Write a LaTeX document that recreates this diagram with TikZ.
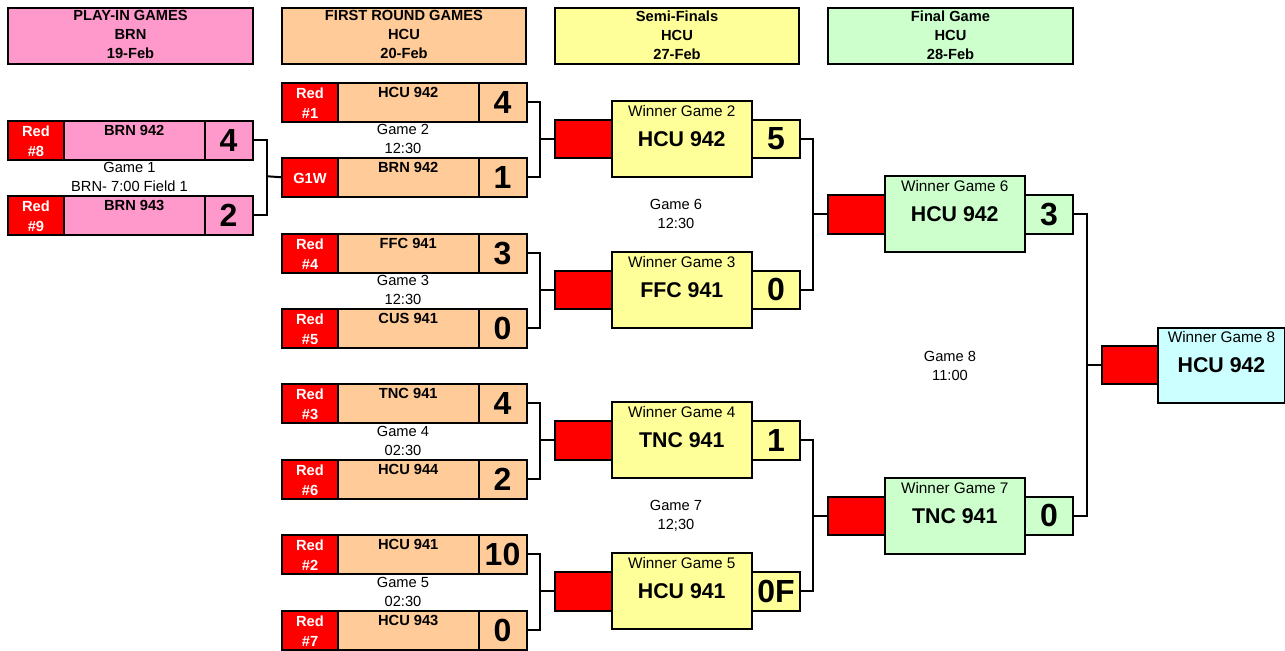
\documentclass[tikz,border=0pt]{standalone}
\usepackage{fontspec}
\setmainfont{Liberation Sans}
\definecolor{pinkc}{HTML}{FF99CC}
\definecolor{peachc}{HTML}{FFCC99}
\definecolor{yellowc}{HTML}{FFFF99}
\definecolor{greenc}{HTML}{CCFFCC}
\definecolor{cyanc}{HTML}{CCFFFF}
\definecolor{redc}{HTML}{FF0000}
\tikzset{
 cw/.style={minimum width=#1*0.75pt},
 ch/.style={minimum height=#1*0.75pt},
 cell/.style={draw=black, line width=1.5pt, inner sep=0pt, anchor=north west},
 redtxt/.style={text=white, font=\bfseries\fontsize{11}{14.5}\selectfont, align=center, inner sep=0pt},
 teamtxt/.style={font=\bfseries\fontsize{11}{13}\selectfont, inner sep=0pt},
 scoretxt/.style={font=\bfseries\fontsize{24}{26}\selectfont, inner sep=0pt},
 gametxt/.style={font=\fontsize{11}{14.25}\selectfont, align=center, inner sep=0pt},
 headtxt/.style={font=\bfseries\fontsize{11}{14.25}\selectfont, align=center, inner sep=0pt},
 wintxt/.style={font=\fontsize{11.5}{13}\selectfont, inner sep=0pt},
 bigname/.style={font=\bfseries\fontsize{16}{18}\selectfont, inner sep=0pt},
 conn/.style={line width=1.5pt},
}
% team row: id, x, ytop, fill, red text, team, score
\newcommand{\trow}[7]{%
 \node[cell, fill=redc, cw=56, ch=38.5] (#1r) at (#2,#3) {};
 \node[cell, fill=#4, cw=140.5, ch=38.5] (#1n) at (#2+56,#3) {};
 \node[cell, fill=#4, cw=48, ch=38.5] (#1s) at (#2+196.5,#3) {};
 \node[redtxt] at ([yshift=-0.8pt]#1r.center) {#5};
 \node[teamtxt] at ([yshift=-7.5pt]#1n.north) {#6};
 \node[scoretxt] at (#1s.center) {#7};
}
% winner box: id, x, ycenter, fill, label, name, score
\newcommand{\wbox}[7]{%
 \node[cell, anchor=west, fill=redc, cw=56.5, ch=38.5] (#1r) at (#2,#3) {};
 \node[cell, anchor=west, fill=#4, cw=48, ch=38.5] (#1s) at (#2+197,#3) {};
 \node[cell, anchor=west, fill=#4, cw=140.5, ch=76] (#1w) at (#2+56.5,#3) {};
 \node[wintxt] at ([yshift=-8.2pt]#1w.north) {#5};
 \node[bigname] at (#1w.center) {#6};
 \node[scoretxt] at (#1s.center) {#7};
}
\begin{document}
\begin{tikzpicture}[x=0.75pt,y=-0.75pt]
\useasboundingbox (0,0) rectangle (1285,650);
% headers
\node[cell, fill=pinkc, cw=245, ch=56] (h1) at (7,7) {};
\node[cell, fill=peachc, cw=244, ch=56] (h2) at (281,7) {};
\node[cell, fill=yellowc, cw=244, ch=56] (h3) at (554,7) {};
\node[cell, fill=greenc, cw=245, ch=56] (h4) at (827,7) {};
\node[headtxt] at ([yshift=0.9pt]h1.center) {PLAY-IN GAMES\\BRN\\19-Feb};
\node[headtxt] at ([yshift=0.9pt]h2.center) {FIRST ROUND GAMES\\HCU\\20-Feb};
\node[headtxt] at ([yshift=0.9pt]h3.center) {Semi-Finals\\HCU\\27-Feb};
\node[headtxt] at ([yshift=0.9pt]h4.center) {Final Game\\HCU\\28-Feb};
% play-in
\trow{p1}{7}{120}{pinkc}{Red\\\#8}{BRN 942}{4}
\trow{p2}{7}{195}{pinkc}{Red\\\#9}{BRN 943}{2}
\node[gametxt] (gl1) at (129.5,176.5) {Game 1\\BRN- 7:00 Field 1};
% first round
\trow{a1}{281}{82}{peachc}{Red\\\#1}{HCU 942}{4}
\trow{a2}{281}{157}{peachc}{G1W}{BRN 942}{1}
\trow{a3}{281}{233}{peachc}{Red\\\#4}{FFC 941}{3}
\trow{a4}{281}{308}{peachc}{Red\\\#5}{CUS 941}{0}
\trow{a5}{281}{383}{peachc}{Red\\\#3}{TNC 941}{4}
\trow{a6}{281}{459}{peachc}{Red\\\#6}{HCU 944}{2}
\trow{a7}{281}{534}{peachc}{Red\\\#2}{HCU 941}{10}
\trow{a8}{281}{610}{peachc}{Red\\\#7}{HCU 943}{0}
\node[gametxt] (gl2) at (403,138.5) {Game 2\\12:30};
\node[gametxt] (gl3) at (403,289.5) {Game 3\\12:30};
\node[gametxt] (gl4) at (403,440.5) {Game 4\\02:30};
\node[gametxt] (gl5) at (403,591.5) {Game 5\\02:30};
% semi-finals
\wbox{s1}{554}{138.75}{yellowc}{Winner Game 2}{HCU 942}{5}
\wbox{s2}{554}{289.75}{yellowc}{Winner Game 3}{FFC 941}{0}
\wbox{s3}{554}{440.25}{yellowc}{Winner Game 4}{TNC 941}{1}
\wbox{s4}{554}{591.25}{yellowc}{Winner Game 5}{HCU 941}{0F}
\node[gametxt] (gl6) at (676,213.5) {Game 6\\12:30};
\node[gametxt] (gl7) at (676,516) {Game 7\\12;30};
% final
\wbox{f6}{827}{214.25}{greenc}{Winner Game 6}{HCU 942}{3}
\wbox{f7}{827}{515.75}{greenc}{Winner Game 7}{TNC 941}{0}
\node[gametxt] (gl8) at (950,365.5) {Game 8\\11:00};
% champion
\node[cell, anchor=west, fill=redc, cw=56, ch=38.5] (chr) at (1101,365) {};
\node[cell, anchor=west, fill=cyanc, cw=127, ch=75] (chw) at (1157,365) {};
\node[wintxt] at ([yshift=-8.2pt]chw.north) {Winner Game 8};
\node[bigname] at (chw.center) {HCU 942};
% connectors
\coordinate (j1) at (267,176.25);
\draw[conn] (p1s.east) -| (j1) |- (p2s.east);
\draw[conn] (j1) -- (a2r.west);
\coordinate (k1) at (540,138.75);
\coordinate (k2) at (540,289.75);
\coordinate (k3) at (540,440.25);
\coordinate (k4) at (540,591.25);
\draw[conn] (a1s.east) -| (k1) |- (a2s.east); \draw[conn] (k1) -- (s1r.west);
\draw[conn] (a3s.east) -| (k2) |- (a4s.east); \draw[conn] (k2) -- (s2r.west);
\draw[conn] (a5s.east) -| (k3) |- (a6s.east); \draw[conn] (k3) -- (s3r.west);
\draw[conn] (a7s.east) -| (k4) |- (a8s.east); \draw[conn] (k4) -- (s4r.west);
\coordinate (m1) at (812.7,214.25);
\coordinate (m2) at (812.7,515.75);
\draw[conn] (s1s.east) -| (m1) |- (s2s.east); \draw[conn] (m1) -- (f6r.west);
\draw[conn] (s3s.east) -| (m2) |- (s4s.east); \draw[conn] (m2) -- (f7r.west);
\coordinate (n1) at (1086.7,365);
\draw[conn] (f6s.east) -| (n1) |- (f7s.east); \draw[conn] (n1) -- (chr.west);
\end{tikzpicture}
\end{document}
